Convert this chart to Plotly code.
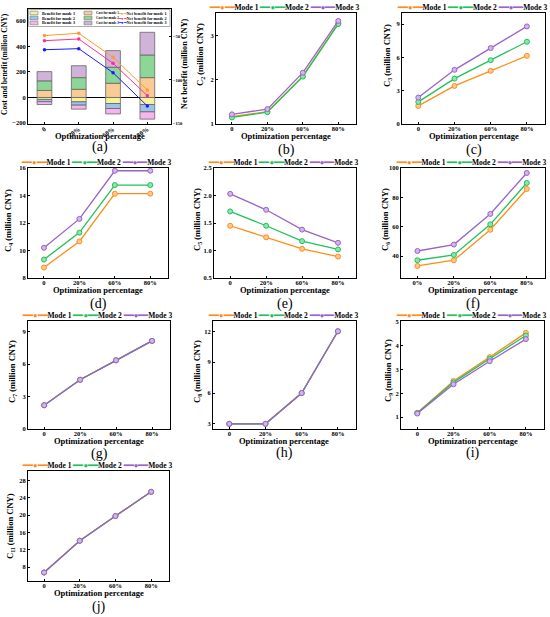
import plotly.graph_objects as go

W, H = 550, 617

pct_labels = ["0", "20%", "60%", "80%"]
pct_labels_f = ["0%", "20%", "60%", "80%"]
mode_names = ["Mode 1", "Mode 2", "Mode 3"]

# (a) cost and benefit of each mode (million CNY), benefits drawn below zero
cost_m1 = [55, 64, 111, 155]
cost_m2 = [75, 91, 125, 177]
cost_m3 = [72, 93, 130, 177]
benefit_m1 = [-15, -34, -47, -55]
benefit_m2 = [-18, -26, -39, -57]
benefit_m3 = [-22, -31, -42, -57]
net_m1 = [-49.0, -46.3, -73.9, -111.5]
net_m2 = [-54.8, -52.9, -80.8, -118.0]
net_m3 = [-65.2, -64.0, -91.6, -129.9]

# (b)-(j) cost items per mode (million CNY)
c2_m1 = [1.16, 1.27, 2.08, 3.28]
c2_m2 = [1.14, 1.26, 2.07, 3.27]
c2_m3 = [1.21, 1.33, 2.16, 3.34]
c3_m1 = [1.63, 3.43, 4.79, 6.14]
c3_m2 = [1.99, 4.09, 5.75, 7.41]
c3_m3 = [2.38, 4.88, 6.84, 8.79]
c4_m1 = [8.76, 10.66, 14.13, 14.13]
c4_m2 = [9.34, 11.30, 14.76, 14.76]
c4_m3 = [10.20, 12.30, 15.80, 15.80]
c5_m1 = [1.45, 1.24, 1.03, 0.89]
c5_m2 = [1.71, 1.45, 1.17, 1.02]
c5_m3 = [2.03, 1.74, 1.38, 1.14]
c6_m1 = [33.2, 37.1, 57.9, 85.7]
c6_m2 = [37.1, 40.7, 61.6, 89.8]
c6_m3 = [43.4, 47.8, 68.7, 96.6]
c7_m1 = [2.20, 4.56, 6.36, 8.16]
c7_m2 = [2.20, 4.56, 6.36, 8.16]
c7_m3 = [2.20, 4.56, 6.36, 8.16]
c8_m1 = [3, 3, 6, 12]
c8_m2 = [3, 3, 6, 12]
c8_m3 = [3, 3, 6, 12]
c9_m1 = [1.18, 2.52, 3.52, 4.54]
c9_m2 = [1.17, 2.46, 3.45, 4.43]
c9_m3 = [1.15, 2.38, 3.35, 4.28]
c11_m1 = [6.76, 14.1, 19.8, 25.4]
c11_m2 = [6.76, 14.1, 19.8, 25.4]
c11_m3 = [6.76, 14.1, 19.8, 25.4]

mode_colors = ["#ff8c1a", "#1fc25a", "#9b62c8"]
mode_fills = ["#ffc98f", "#8fe3ad", "#d2b5ea"]
cost_colors = ["#fbcb96", "#8ed697", "#cfb3d8"]
benefit_colors = ["#f8f39a", "#9cc2ee", "#f6b6ec"]
net_colors = ["#ff9a2e", "#ff2f92", "#1a1aff"]

FONT = "Liberation Serif"
tick_font = dict(family=FONT, size=6.5, color="black", weight="bold")
title_font = dict(family=FONT, size=8.5, color="black", weight="bold")

axis_style = dict(
    showline=True, linecolor="black", linewidth=1, mirror=True,
    ticks="inside", ticklen=2, tickwidth=1, tickcolor="black",
    showgrid=False, zeroline=False, tickfont=tick_font, automargin=False,
)


def px(x, y):
    return x / W, 1 - y / H


def xdom(x0, x1):
    return [x0 / W, x1 / W]


def ydom(y0, y1):
    return [1 - y1 / H, 1 - y0 / H]


fig = go.Figure()

# ---- panel (a)
for vals, col, m in zip([cost_m1, cost_m2, cost_m3], cost_colors, range(3)):
    fig.add_trace(go.Bar(
        x=pct_labels, y=vals, name=f"Cost for mode {m + 1}", width=0.43,
        marker=dict(color=col, line=dict(color="#666666", width=0.8)),
        xaxis="x", yaxis="y", showlegend=False,
    ))
for vals, col, m in zip([benefit_m1, benefit_m2, benefit_m3], benefit_colors, range(3)):
    fig.add_trace(go.Bar(
        x=pct_labels, y=vals, name=f"Benefit for mode {m + 1}", width=0.43,
        marker=dict(color=col, line=dict(color="#666666", width=0.8)),
        xaxis="x", yaxis="y", showlegend=False,
    ))
for vals, col, m in zip([net_m1, net_m2, net_m3], net_colors, range(3)):
    fig.add_trace(go.Scatter(
        x=pct_labels, y=vals, name=f"Net benefit for mode {m + 1}",
        mode="lines+markers", line=dict(color=col, width=1),
        marker=dict(size=3.5, color=col),
        xaxis="x", yaxis="y2", showlegend=False,
    ))

# ---- panels (b)-(j)
panels = [
    ("b", "2", [c2_m1, c2_m2, c2_m3], pct_labels),
    ("c", "3", [c3_m1, c3_m2, c3_m3], pct_labels),
    ("d", "4", [c4_m1, c4_m2, c4_m3], pct_labels),
    ("e", "5", [c5_m1, c5_m2, c5_m3], pct_labels),
    ("f", "6", [c6_m1, c6_m2, c6_m3], pct_labels_f),
    ("g", "7", [c7_m1, c7_m2, c7_m3], pct_labels),
    ("h", "8", [c8_m1, c8_m2, c8_m3], pct_labels),
    ("i", "9", [c9_m1, c9_m2, c9_m3], pct_labels),
    ("j", "11", [c11_m1, c11_m2, c11_m3], pct_labels),
]

# pixel boxes (left, right, top, bottom)
boxes = {
    "a": (28, 171, 9, 124),
    "b": (216, 356, 13, 124),
    "c": (402, 545, 13, 124),
    "d": (28, 168, 168, 278),
    "e": (214, 356, 168, 278),
    "f": (401, 545, 168, 278),
    "g": (28, 170, 321, 429),
    "h": (213, 356, 321, 429),
    "i": (401, 544, 321, 429),
    "j": (28, 169, 471, 581),
}
yaxes = {
    "b": dict(range=[0.99, 3.52], dtick=1, tick0=0),
    "c": dict(range=[0, 10], dtick=3, tick0=0),
    "d": dict(range=[8, 16], dtick=2, tick0=0),
    "e": dict(range=[0.5, 2.5], dtick=0.5, tick0=0, tickformat=".1f"),
    "f": dict(range=[25, 100], dtick=20, tick0=0),
    "g": dict(range=[0, 10], dtick=3, tick0=0),
    "h": dict(range=[2.5, 13], dtick=3, tick0=0),
    "i": dict(range=[0.5, 5.04], dtick=1, tick0=0),
    "j": dict(range=[4.8, 30.2], dtick=4, tick0=0),
}
label_y = {"a": 147, "b": 150, "c": 150, "d": 304, "e": 304, "f": 304,
           "g": 454, "h": 453, "i": 453, "j": 607}
# y-title centres
ytitle_pos = {"b": (200, 55), "c": (387, 56), "d": (8, 221), "e": (197, 220),
              "f": (385, 220), "g": (12, 372), "h": (197, 372), "i": (388, 371),
              "j": (10, 526)}

layout = {}
l, r, t, b = boxes["a"]
layout["xaxis"] = dict(
    domain=xdom(l, r), anchor="y", type="category", range=[-0.48, 3.69],
    tickangle=-35, ticklabelstandoff=-2, **axis_style,
)
layout["yaxis"] = dict(
    domain=ydom(t, b), anchor="x", range=[-207, 691],
    tickvals=[-200, 0, 200, 400, 600],
    **{**axis_style, "zeroline": True},
    zerolinecolor="black", zerolinewidth=1.3,
)
layout["yaxis2"] = dict(
    overlaying="y", side="right", anchor="x", range=[-150.6, -18.4],
    tickvals=[-150, -100, -50],
    **{**axis_style, "tickfont": dict(tick_font, size=4.6), "mirror": False},
)

for i, (key, sub, series, xl) in enumerate(panels):
    xa, ya = i + 2, i + 3
    for vals, name, col, fill in zip(series, mode_names, mode_colors, mode_fills):
        fig.add_trace(go.Scatter(
            x=xl, y=vals, name=name, mode="lines+markers",
            line=dict(color=col, width=1.3),
            marker=dict(size=5, color=fill, line=dict(color=col, width=1)),
            xaxis=f"x{xa}", yaxis=f"y{ya}", showlegend=False,
        ))
    l, r, t, b = boxes[key]
    layout[f"xaxis{xa}"] = dict(
        domain=xdom(l, r), anchor=f"y{ya}", type="category", range=[-0.45, 3.5],
        tickangle=0, ticklabelstandoff=-2, **axis_style,
    )
    layout[f"yaxis{ya}"] = dict(
        domain=ydom(t, b), anchor=f"x{xa}", **yaxes[key], **axis_style,
    )

annotations = []
shapes = []


def note(x, y, text, font, **kw):
    ax, ay = px(x, y)
    d = dict(x=ax, y=ay, xref="paper", yref="paper", text=text, showarrow=False,
             font=font, xanchor="center", yanchor="middle")
    d.update(kw)
    annotations.append(d)


# panel labels and x-axis titles
for key, (l, r, t, b) in boxes.items():
    note((l + r) / 2, label_y[key], f"({key})", dict(family=FONT, size=14, color="black"))
    note((l + r) / 2, b + 12, "Optimization percentage", title_font)

# y-axis titles
note(5, 64, "Cost and benefit (million CNY)", dict(title_font, size=7.6), textangle=-90)
note(185, 64, "Net benefit (million CNY)", dict(title_font, size=8.2), textangle=-90)
for key, sub, *_ in panels:
    x, y = ytitle_pos[key]
    note(x, y, f"C<sub>{sub}</sub> (million CNY)", title_font, textangle=-90)

# mode legends above panels (b)-(j)
leg_text = " ".join(
    f'<span style="color:{c}">━━●━━</span>{n}' for n, c in zip(mode_names, mode_colors)
)
for key, *_ in panels:
    l, r, t, b = boxes[key]
    note((l + r) / 2 - 2, t - 5.4, leg_text, dict(family=FONT, size=7.5, color="black", weight="bold"))

# legend of panel (a): three columns inside the top of the plot
x0, y0 = px(28.5, 9.5)
x1, y1 = px(170, 26.5)
shapes.append(dict(type="rect", xref="paper", yref="paper", x0=x0, y0=y0, x1=x1, y1=y1,
                   line=dict(color="#999999", width=0.8), fillcolor="white", layer="above"))
rows = [13, 18, 23]
small_font = dict(family=FONT, size=4.2, color="black", weight="bold")
for m, yr in enumerate(rows):
    for xs, col, lab, fs in [(30, benefit_colors[m], "Benefit", 4.2), (84, cost_colors[m], "Cost", 3.4)]:
        sx0, sy0 = px(xs, yr - 1.8)
        sx1, sy1 = px(xs + 8, yr + 1.8)
        shapes.append(dict(type="rect", xref="paper", yref="paper",
                           x0=sx0, y0=sy0, x1=sx1, y1=sy1, layer="above",
                           line=dict(color="#777777", width=0.6), fillcolor=col))
        note(xs + 9.5, yr, f"{lab} for mode {m + 1}", dict(small_font, size=fs), xanchor="left")
    note(116, yr, f'<span style="color:{net_colors[m]}">━●━</span> Net benefit for mode {m + 1}',
         small_font, xanchor="left")

fig.update_layout(
    template="none",
    width=W, height=H,
    margin=dict(l=0, r=0, t=0, b=0),
    paper_bgcolor="white", plot_bgcolor="white",
    barmode="relative",
    showlegend=False,
    annotations=annotations,
    shapes=shapes,
    **layout,
)

# the page body has a default 8 px margin; drop it so the figure fills the window
fig.write_html(
    "out.html",
    config={"displayModeBar": False},
    post_script="document.body.style.margin = '0px';",
)
